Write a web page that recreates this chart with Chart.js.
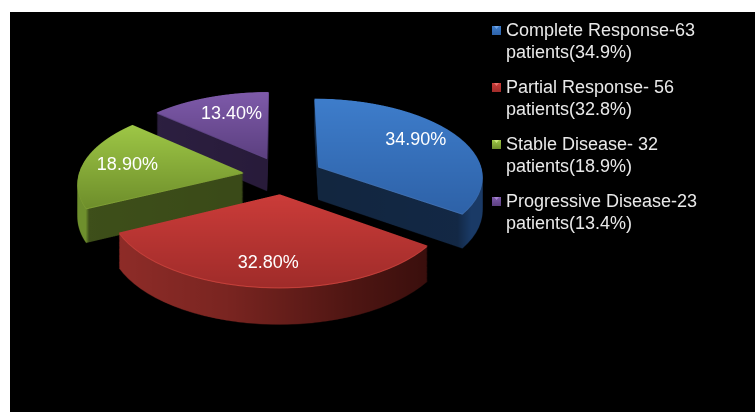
<!DOCTYPE html>
<html>
<head>
<meta charset="utf-8">
<title>Response</title>
<script src="https://cdn.jsdelivr.net/npm/chart.js@4"></script>
<style>
  html, body { margin: 0; padding: 0; background: #fff; }
  canvas { display: block; }
</style>
</head>
<body>
<canvas id="responsePie" width="755" height="412"></canvas>
<script>
// ======================== Data ========================
const categories = ['Complete Response', 'Partial Response', 'Stable Disease', 'Progressive Disease'];
const percentValues = [34.9, 32.8, 18.9, 13.4];
const legendLines = [
  ['Complete Response-63', 'patients(34.9%)'],
  ['Partial Response- 56', 'patients(32.8%)'],
  ['Stable Disease- 32', 'patients(18.9%)'],
  ['Progressive Disease-23', 'patients(13.4%)']
];

// ======================== Colours ========================
const baseColors = ['#3a75c0', '#bb3633', '#86a83a', '#6a4b92'];
const faceColors = [['#3e7dcb', '#2e62a8'], ['#cb3c39', '#a02c2a'], ['#9ec746', '#6e8e2b'], ['#7e5aaa', '#5c4080']];
const rimColors = ['#3f6fb0', '#c8423c', '#7f9f35', '#5f4585'];
const swatchHighlights = ['#6fa4e6', '#e8716c', '#cbe67a', '#a583d2'];
const wallColors = [
  [[0, '#12263f'], [0.85, '#132845'], [0.93, '#1a3a66'], [1, '#1a3a66']],
  [[0, '#8e2c28'], [0.35, '#7a2521'], [0.75, '#4f1613'], [1, '#3a0f0d']],
  [[0, '#6e8f2d'], [0.05, '#6e8f2d'], [0.07, '#3e4f1a'], [1, '#3a4a18']],
  [[0, '#2c1f40'], [1, '#281b3a']]
];

// ======================== Fake 3D settings ========================
const W = 755, H = 412;
const PIE_X = 283, PIE_Y = 175;   // where the flat centre lands on the page
const RADIUS = 165, EXPLODE = 40;
const TILT = 0.47, PERSPECTIVE = 0.0007;
const DEPTH = 30, DEPTH_GROW = 0.0011;
const LABEL_POS = 0.73;
const LABEL_NUDGE = [[-3, -2], [0, 3], [1, 0], [8, 1]];
const DRAW_ORDER = [3, 2, 0, 1]; // back to front
const SS = 2;
const FONT = '18px "Liberation Sans", Arial, sans-serif';

// flat pie coordinates (relative to centre) -> page
function project(u, v) {
  const s = 1 / (1 - PERSPECTIVE * v);
  return { x: PIE_X + u * s, y: PIE_Y + v * TILT * s };
}

function newLayer(w, h) {
  const c = document.createElement('canvas');
  c.width = w;
  c.height = h;
  return c;
}

// draw one chart.js arc flat, then warp it row by row on to the tilted plane
function warpArc(arc) {
  const size = 2 * (RADIUS + EXPLODE + 6);
  const flat = newLayer(size * SS, size * SS);
  const fctx = flat.getContext('2d');
  const mid = (arc.startAngle + arc.endAngle) / 2;
  fctx.scale(SS, SS);
  fctx.translate(size / 2 - arc.x + Math.cos(mid) * EXPLODE, size / 2 - arc.y + Math.sin(mid) * EXPLODE);
  arc.draw(fctx);

  const out = newLayer(W * SS, H * SS);
  const octx = out.getContext('2d');
  octx.imageSmoothingQuality = 'high';
  const srcV = (row) => {
    const Y = (row / SS - PIE_Y) / TILT;
    return Y / (1 + PERSPECTIVE * Y);
  };
  for (let row = 0; row < H * SS; row++) {
    const v0 = srcV(row), v1 = srcV(row + 1);
    const sy = (v0 + size / 2) * SS;
    if (sy < 0 || sy >= size * SS) continue;
    const s = 1 / (1 - PERSPECTIVE * v0);
    const dw = size * s * SS;
    octx.drawImage(flat, 0, sy, size * SS, (v1 - v0) * SS, (PIE_X - size / 2 * s) * SS, row, dw, 1);
  }
  return out;
}

// page bounding box of one exploded slice
function sliceBox(arc) {
  const mid = (arc.startAngle + arc.endAngle) / 2;
  const ax = Math.cos(mid) * EXPLODE, ay = Math.sin(mid) * EXPLODE;
  const pts = [project(ax, ay)];
  for (let i = 0; i <= 40; i++) {
    const a = arc.startAngle + (arc.endAngle - arc.startAngle) * i / 40;
    pts.push(project(ax + Math.cos(a) * RADIUS, ay + Math.sin(a) * RADIUS));
  }
  return {
    left: Math.min(...pts.map(p => p.x)),
    right: Math.max(...pts.map(p => p.x)),
    top: Math.min(...pts.map(p => p.y)),
    bottom: Math.max(...pts.map(p => p.y))
  };
}

function tint(layer, paint) {
  const c = layer.getContext('2d');
  c.setTransform(1, 0, 0, 1, 0, 0);
  c.globalCompositeOperation = 'source-atop';
  c.fillStyle = paint;
  c.scale(SS, SS);
  c.fillRect(0, 0, W, H);
  c.setTransform(1, 0, 0, 1, 0, 0);
  c.globalCompositeOperation = 'source-over';
}

const pie3dPlugin = {
  id: 'pie3d',
  beforeDraw(chart) {
    const ctx = chart.ctx;
    ctx.save();
    ctx.fillStyle = '#fff';
    ctx.fillRect(0, 0, W, H);
    ctx.fillStyle = '#000';
    ctx.fillRect(10, 12, W - 10, H - 12);
    ctx.restore();
  },
  beforeDatasetsDraw(chart) {
    const ctx = chart.ctx;
    const arcs = chart.getDatasetMeta(0).data;

    DRAW_ORDER.forEach(i => {
      const box = sliceBox(arcs[i]);
      const face = warpArc(arcs[i]);

      // side walls: stacked copies of the silhouette, pushed down
      const wall = newLayer(W * SS, H * SS);
      const wctx = wall.getContext('2d');
      wctx.scale(SS, SS);
      for (let d = DEPTH; d >= 1; d--) {
        const grow = DEPTH_GROW * d;
        wctx.drawImage(face, 0, d - 70 * grow, W, H * (1 + grow));
      }
      const wallGrad = ctx.createLinearGradient(box.left, 0, box.right, 0);
      wallColors[i].forEach(stop => wallGrad.addColorStop(stop[0], stop[1]));
      tint(wall, wallGrad);

      // thin lit rim under the top face
      const rim = newLayer(W * SS, H * SS);
      const rctx = rim.getContext('2d');
      rctx.scale(SS, SS);
      rctx.drawImage(face, 0, 1, W, H);
      tint(rim, rimColors[i]);

      const faceGrad = ctx.createLinearGradient(0, box.top, 0, box.bottom);
      faceGrad.addColorStop(0, faceColors[i][0]);
      faceGrad.addColorStop(1, faceColors[i][1]);
      tint(face, faceGrad);

      ctx.drawImage(wall, 0, 0, W, H);
      ctx.drawImage(rim, 0, 0, W, H);
      ctx.drawImage(face, 0, 0, W, H);
    });
    return false; // the flat pie is not wanted
  },
  afterDraw(chart) {
    const ctx = chart.ctx;
    const arcs = chart.getDatasetMeta(0).data;

    // percent labels on the slices
    ctx.save();
    ctx.fillStyle = '#fff';
    ctx.font = FONT;
    ctx.textAlign = 'center';
    ctx.textBaseline = 'middle';
    arcs.forEach((arc, i) => {
      const mid = (arc.startAngle + arc.endAngle) / 2;
      const r = EXPLODE + RADIUS * LABEL_POS;
      const p = project(Math.cos(mid) * r, Math.sin(mid) * r);
      ctx.fillText(percentValues[i].toFixed(2) + '%', p.x + LABEL_NUDGE[i][0], p.y + LABEL_NUDGE[i][1]);
    });

    // legend, two lines per entry
    const rows = [31, 88, 145, 202];
    ctx.textAlign = 'left';
    legendLines.forEach((lines, i) => {
      const y = rows[i];
      const g = ctx.createLinearGradient(0, y - 5, 0, y + 4);
      g.addColorStop(0, faceColors[i][0]);
      g.addColorStop(1, faceColors[i][1]);
      ctx.fillStyle = g;
      ctx.fillRect(492, y - 5, 9, 9);
      ctx.fillStyle = swatchHighlights[i];
      ctx.beginPath();
      ctx.moveTo(494, y - 5);
      ctx.lineTo(499, y - 5);
      ctx.lineTo(496.5, y - 2);
      ctx.closePath();
      ctx.fill();
      ctx.fillStyle = '#e9e9e9';
      ctx.fillText(lines[0], 506, y);
      ctx.fillText(lines[1], 506, y + 22.5);
    });
    ctx.restore();
  }
};

// ======================== Chart ========================
new Chart(document.getElementById('responsePie').getContext('2d'), {
  type: 'pie',
  data: {
    labels: categories,
    datasets: [{
      data: percentValues,
      backgroundColor: baseColors,
      borderWidth: 0
    }]
  },
  options: {
    responsive: false,
    animation: false,
    devicePixelRatio: 1,
    radius: RADIUS,
    layout: { padding: 0 },
    plugins: {
      legend: { display: false },
      tooltip: { enabled: false }
    }
  },
  plugins: [pie3dPlugin]
});
</script>
</body>
</html>
